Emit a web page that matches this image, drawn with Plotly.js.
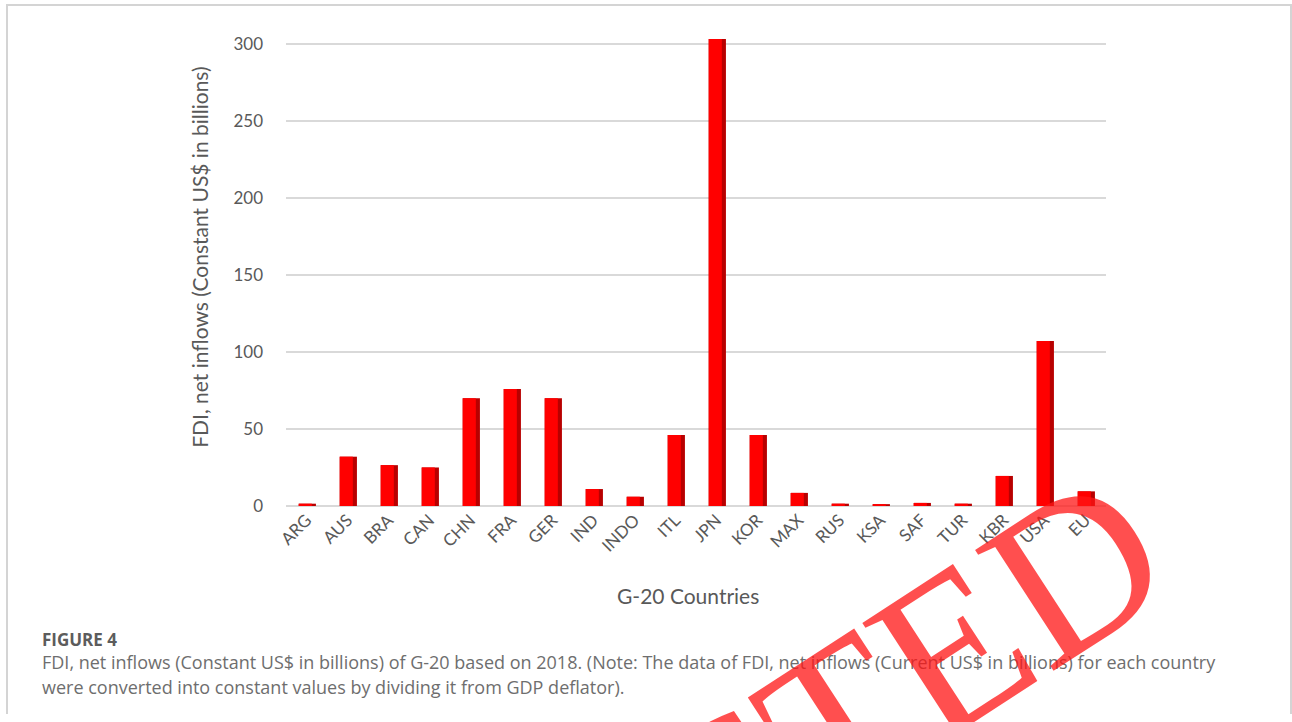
<!DOCTYPE html>
<html>
<head>
<meta charset="utf-8">
<script src="https://cdn.plot.ly/plotly-3.0.1.min.js"></script>
<style>
  html, body { margin: 0; padding: 0; background: #ffffff; }
  #frame {
    position: absolute; left: 6px; top: 4px; width: 1282px; height: 708px;
    border-top: 2px solid #d4d4d4; border-left: 2px solid #d4d4d4; border-right: 2px solid #d4d4d4;
    pointer-events: none; z-index: 5;
  }
  #chart { position: absolute; left: 0; top: 0; width: 1292px; height: 722px; }
</style>
</head>
<body>
<div id="chart"></div>
<div id="frame"></div>
<script>
// G-20 members on the category axis
const countries = ['ARG', 'AUS', 'BRA', 'CAN', 'CHN', 'FRA', 'GER', 'IND', 'INDO', 'ITL',
                   'JPN', 'KOR', 'MAX', 'RUS', 'KSA', 'SAF', 'TUR', 'KBR', 'USA', 'EU'];
// FDI, net inflows in constant US$ billions (2018)
const fdiInflows = [1.5, 32, 26.5, 25, 70, 76, 70, 11, 6, 46,
                    303, 46, 8.5, 1.5, 1.2, 2.0, 1.5, 19.5, 107, 9.5];
const yTicks = [0, 50, 100, 150, 200, 250, 300];

const captionTitle = 'FIGURE 4';
const captionLine1 = 'FDI, net inflows (Constant US$ in billions) of G-20 based on 2018. (Note: The data of FDI, net inflows (Current US$ in billions) for each country';
const captionLine2 = 'were converted into constant values by dividing it from GDP deflator).';

const axisGrey = '#595959';
const tickFont = { family: 'Lato, sans-serif', size: 17, color: axisGrey };
const titleFont = { family: 'Lato, sans-serif', size: 21, color: axisGrey };
const captionFont = { family: 'Open Sans, sans-serif', size: 18, color: '#6e6e6e' };

// side face of each column (darker red), drawn first, front face on top
const sideFace = {
  type: 'bar', x: countries, y: fdiInflows,
  width: 0.42, offset: -0.19,
  marker: { color: '#b80000', line: { width: 0 } },
  cliponaxis: false, hoverinfo: 'skip', showlegend: false
};
const frontFace = {
  type: 'bar', x: countries, y: fdiInflows,
  width: 0.32, offset: -0.19,
  marker: { color: '#ff0000', line: { width: 0 } },
  cliponaxis: false, showlegend: false
};

const layout = {
  width: 1292, height: 722,
  margin: { l: 286, r: 186, t: 36, b: 216 },
  paper_bgcolor: '#ffffff', plot_bgcolor: '#ffffff',
  barmode: 'overlay',
  showlegend: false,
  xaxis: {
    type: 'category',
    tickangle: -45,
    tickfont: tickFont,
    showgrid: false, zeroline: false, showline: false,
    ticks: '', automargin: false
  },
  yaxis: {
    range: [0, 305],
    tickvals: yTicks,
    ticktext: yTicks.map(String),
    tickfont: tickFont,
    ticklabelstandoff: 22,
    showgrid: true, gridcolor: '#d9d9d9', gridwidth: 2,
    zeroline: true, zerolinecolor: '#d9d9d9', zerolinewidth: 2,
    showline: false, ticks: '', automargin: false
  },
  annotations: [
    {
      text: 'FDI, net inflows (Constant US$ in billions)',
      xref: 'paper', yref: 'paper', x: -0.105, y: 0.53,
      xanchor: 'center', yanchor: 'middle', textangle: -90, showarrow: false,
      font: titleFont
    },
    {
      text: 'G-20 Countries',
      xref: 'paper', yref: 'paper', x: 0.49, y: -0.191,
      xanchor: 'center', yanchor: 'middle', showarrow: false,
      font: titleFont
    },
    {
      text: '<b>' + captionTitle + '</b>',
      xref: 'paper', yref: 'paper', x: -0.3, y: -0.285,
      xanchor: 'left', yanchor: 'middle', showarrow: false,
      font: { family: 'Open Sans, sans-serif', size: 17, color: '#5c5c5c' }
    },
    {
      text: captionLine1,
      xref: 'paper', yref: 'paper', x: -0.3, y: -0.332,
      xanchor: 'left', yanchor: 'middle', showarrow: false,
      font: captionFont
    },
    {
      text: captionLine2,
      xref: 'paper', yref: 'paper', x: -0.3, y: -0.385,
      xanchor: 'left', yanchor: 'middle', showarrow: false,
      font: captionFont
    },
    {
      // retraction stamp across the lower right
      text: 'RETRACTED',
      xref: 'paper', yref: 'paper', x: 0.381, y: -0.791,
      xanchor: 'center', yanchor: 'middle', textangle: -33, showarrow: false,
      font: { family: 'Liberation Serif, serif', size: 220, color: 'rgba(255, 20, 20, 0.75)' }
    }
  ]
};

Plotly.newPlot('chart', [sideFace, frontFace], layout, { displayModeBar: false, staticPlot: true });
</script>
</body>
</html>
